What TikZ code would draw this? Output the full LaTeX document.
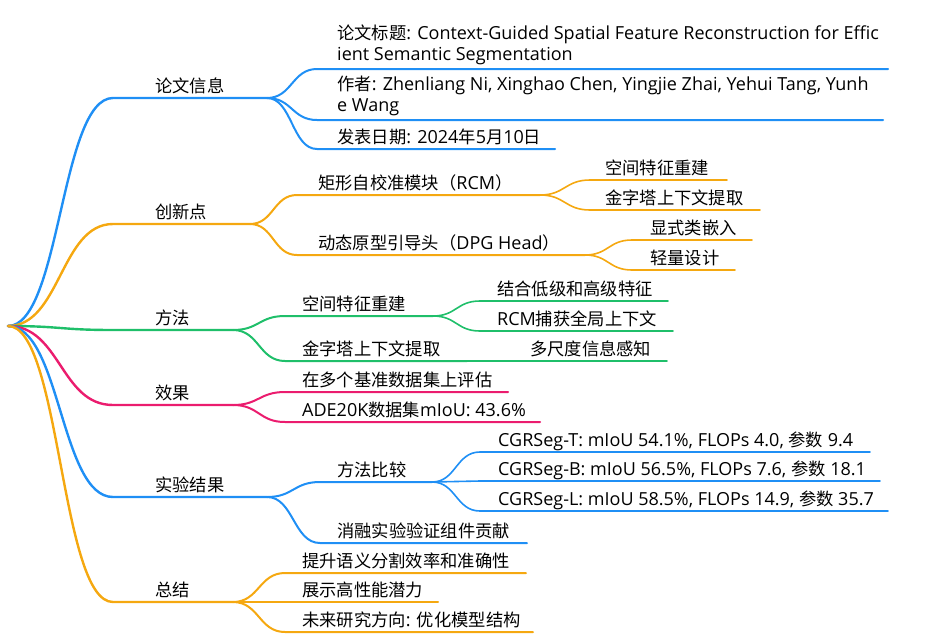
\documentclass[tikz,border=0pt]{standalone}
\usepackage{fontspec}
\setmainfont{Open Sans}
\newfontfamily\cjkfont[Scale=0.96]{Noto Sans CJK SC}
\newcommand\zh[1]{{\cjkfont #1}}
\usetikzlibrary{calc}
\definecolor{mmblue}{HTML}{1F8FF5}
\definecolor{mmorange}{HTML}{F5A810}
\definecolor{mmgreen}{HTML}{1FBF6A}
\definecolor{mmpink}{HTML}{EB1C6E}
\tikzset{
  lab/.style={anchor=base west, inner sep=0pt, font=\fontsize{18}{21}\selectfont, text=black, align=left},
  twoline/.style={yshift=3pt},
  d1/.style={line width=2.4pt},
  d2/.style={line width=2pt},
  d3/.style={line width=1.6pt}
}
% a branch item: underline from xL to xR at height y, text starting at tx
\newcommand\mmnode[7][]{%
  \coordinate (#2-l) at (#3,#5);
  \coordinate (#2-r) at (#4,#5);
  \node[lab,#1] (#2) at (#6,#5-6) {#7};}
% smooth link from a point to a child, continued by the child's underline
\newcommand\mmlink[4]{%
  \draw[#3,#4,line cap=round,line join=round]
    let \p1=(#1), \p2=(#2-l) in
    (\p1) .. controls ({(\x1+\x2)/2},\y1) and ({(\x1+\x2)/2},\y2) .. (\p2) -- (#2-r);}
\begin{document}
\begin{tikzpicture}[x=1pt,y=-1pt]
\useasboundingbox (0,0) rectangle (925,643);
\coordinate (root) at (8,326);

% first level
\mmnode{A}{113}{267}{98}{155}{\zh{论文信息}}
\mmnode{B}{113}{250}{224}{155}{\zh{创新点}}
\mmnode{C}{113}{233}{330}{155}{\zh{方法}}
\mmnode{D}{113}{233}{405}{155}{\zh{效果}}
\mmnode{E}{113}{267}{497}{155}{\zh{实验结果}}
\mmnode{F}{113}{233}{602}{155}{\zh{总结}}

% paper info
\mmnode[twoline]{A1}{317}{888}{69}{337}{\zh{论文标题}: Context-Guided Spatial Feature Reconstruction for Effic\\ient Semantic Segmentation}
\mmnode[twoline]{A2}{317}{883}{120}{337}{\zh{作者}: Zhenliang Ni, Xinghao Chen, Yingjie Zhai, Yehui Tang, Yunh\\e Wang}
\mmnode{A3}{317}{555}{149}{337}{\zh{发表日期}: 2024\zh{年}5\zh{月}10\zh{日}}

% innovations
\mmnode{B1}{297}{540}{195}{318}{\zh{矩形自校准模块（}RCM\zh{）}}
\mmnode{B2}{297}{585}{255}{318}{\zh{动态原型引导头（}DPG Head\zh{）}}
\mmnode{B1a}{590}{727}{180}{605}{\zh{空间特征重建}}
\mmnode{B1b}{590}{760}{210}{605}{\zh{金字塔上下文提取}}
\mmnode{B2a}{632}{752}{240}{650}{\zh{显式类嵌入}}
\mmnode{B2b}{632}{735}{270}{650}{\zh{轻量设计}}

% method
\mmnode{C1}{285}{433}{316}{302}{\zh{空间特征重建}}
\mmnode{C2}{285}{467}{361}{302}{\zh{金字塔上下文提取}}
\mmnode{C1a}{480}{668}{301}{497}{\zh{结合低级和高级特征}}
\mmnode{C1b}{480}{673}{331}{497}{RCM\zh{捕获全局上下文}}
\mmnode{C2a}{513}{667}{361}{530}{\zh{多尺度信息感知}}

% results
\mmnode{D1}{285}{508}{392}{302}{\zh{在多个基准数据集上评估}}
\mmnode{D2}{285}{540}{422}{302}{ADE20K\zh{数据集}mIoU: 43.6\%}

% experiments
\mmnode{E1}{320}{432}{482}{337}{\zh{方法比较}}
\mmnode{E2}{320}{527}{543}{337}{\zh{消融实验验证组件贡献}}
\mmnode{E1a}{480}{870}{452}{498}{CGRSeg-T: mIoU 54.1\%, FLOPs 4.0, \zh{参数} 9.4}
\mmnode{E1b}{480}{880}{481}{498}{CGRSeg-B: mIoU 56.5\%, FLOPs 7.6, \zh{参数} 18.1}
\mmnode{E1c}{480}{888}{511}{498}{CGRSeg-L: mIoU 58.5\%, FLOPs 14.9, \zh{参数} 35.7}

% summary
\mmnode{F1}{285}{526}{573}{302}{\zh{提升语义分割效率和准确性}}
\mmnode{F2}{285}{438}{602}{302}{\zh{展示高性能潜力}}
\mmnode{F3}{285}{533}{632}{302}{\zh{未来研究方向}: \zh{优化模型结构}}

% connectors
\mmlink{root}{A}{mmblue}{d1}
\mmlink{root}{B}{mmorange}{d1}
\mmlink{root}{C}{mmgreen}{d1}
\mmlink{root}{D}{mmpink}{d1}
\mmlink{root}{E}{mmblue}{d1}
\mmlink{root}{F}{mmorange}{d1}

\mmlink{A-r}{A1}{mmblue}{d2}
\mmlink{A-r}{A2}{mmblue}{d2}
\mmlink{A-r}{A3}{mmblue}{d2}

\mmlink{B-r}{B1}{mmorange}{d2}
\mmlink{B-r}{B2}{mmorange}{d2}
\mmlink{B1-r}{B1a}{mmorange}{d3}
\mmlink{B1-r}{B1b}{mmorange}{d3}
\mmlink{B2-r}{B2a}{mmorange}{d3}
\mmlink{B2-r}{B2b}{mmorange}{d3}

\mmlink{C-r}{C1}{mmgreen}{d2}
\mmlink{C-r}{C2}{mmgreen}{d2}
\mmlink{C1-r}{C1a}{mmgreen}{d3}
\mmlink{C1-r}{C1b}{mmgreen}{d3}
\mmlink{C2-r}{C2a}{mmgreen}{d3}

\mmlink{D-r}{D1}{mmpink}{d2}
\mmlink{D-r}{D2}{mmpink}{d2}

\mmlink{E-r}{E1}{mmblue}{d2}
\mmlink{E-r}{E2}{mmblue}{d2}
\mmlink{E1-r}{E1a}{mmblue}{d3}
\mmlink{E1-r}{E1b}{mmblue}{d3}
\mmlink{E1-r}{E1c}{mmblue}{d3}

\mmlink{F-r}{F1}{mmorange}{d2}
\mmlink{F-r}{F2}{mmorange}{d2}
\mmlink{F-r}{F3}{mmorange}{d2}
\end{tikzpicture}
\end{document}
